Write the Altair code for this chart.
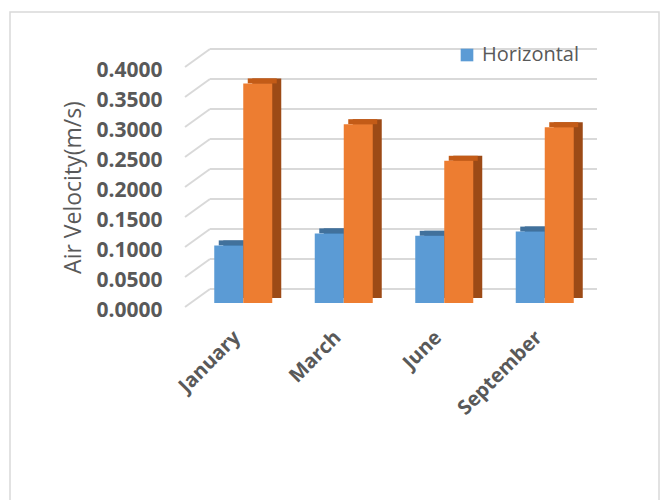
import altair as alt
import pandas as pd

# Monthly air velocity, two components
months = ["January", "March", "June", "September"]
horizontal = [0.096, 0.116, 0.112, 0.119]
vertical = [0.366, 0.298, 0.237, 0.293]
y_ticks = [0.0, 0.05, 0.10, 0.15, 0.20, 0.25, 0.30, 0.35, 0.40]

series_names = ["Horizontal", "Vertical"]
front_colors = ["#5B9BD5", "#ED7D31"]
top_colors = ["#41719C", "#C35B17"]
side_colors = ["#2F5F8C", "#9C4A16"]

rows = []
for m, h, v in zip(months, horizontal, vertical):
    rows.append({"month": m, "series": "Horizontal", "value": h})
    rows.append({"month": m, "series": "Vertical", "value": v})
df = pd.DataFrame(rows)
grid_df = pd.DataFrame({"tick": y_ticks})

FONT = "Open Sans"
GREY = "#595959"
BAR_W = 29
DEPTH_X = 9
DEPTH_Y = 5
FLOOR = 4  # bars sit slightly behind the front edge of the floor

x_scale = alt.Scale(domain=months, paddingInner=0.42, paddingOuter=0.21)
y_scale = alt.Scale(domain=[0, 0.4], nice=False)

x_axis = alt.Axis(
    title=None, labelAngle=-45, labelFont=FONT, labelFontWeight="bold",
    labelFontSize=20, labelColor=GREY, domain=False, ticks=False,
    labelPadding=20, labelOffset=-13, grid=False, zindex=1,
)
y_axis = alt.Axis(
    title="Air Velocity(m/s)", values=y_ticks, format=".4f",
    labelFont=FONT, labelFontWeight="bold", labelFontSize=21, labelColor=GREY,
    labelOverlap=False, labelOffset=3, tickCount=9,
    domain=False, ticks=False, grid=False, labelPadding=31, zindex=1,
    titleFont=FONT, titleFontWeight="normal", titleFontSize=23, titleColor=GREY,
    titleAngle=-90, titleX=-120, titleY=120, titleBaseline="middle", titleAlign="center",
)


def y_enc(field):
    return alt.Y(field, scale=y_scale, axis=y_axis)


def x_enc():
    return alt.X("month:N", scale=x_scale, axis=x_axis, sort=months)


# Outer frame around the figure
frame = alt.Chart(alt.Data(values=[{}])).mark_rect(
    filled=False, stroke="#d9d9d9", strokeWidth=1.5
).encode(
    x=alt.value(-183), x2=alt.value(466), y=alt.value(-55), y2=alt.value(445)
)

# Back-wall gridlines and the slanted lines joining them to the labels
wall = alt.Chart(grid_df).mark_rule(
    color="#d9d9d9", strokeWidth=2, yOffset=-18, y2Offset=-18
).encode(
    y=y_enc("tick:Q"), y2="tick:Q",
    x=alt.value(17), x2=alt.value(404),
)
slant = alt.Chart(grid_df).mark_rule(
    color="#d9d9d9", strokeWidth=2, yOffset=0, y2Offset=-18
).encode(
    y=y_enc("tick:Q"), y2="tick:Q",
    x=alt.value(-8), x2=alt.value(17),
)

layers = [frame, wall, slant]
for i, name in enumerate(series_names):
    shift = (-0.5 + i) * BAR_W
    base = alt.Chart(df).transform_filter(alt.datum.series == name)
    side = base.mark_bar(
        width=BAR_W, color=side_colors[i], xOffset=shift + DEPTH_X,
        yOffset=-FLOOR - DEPTH_Y, y2Offset=-FLOOR - DEPTH_Y,
    ).encode(x=x_enc(), y=y_enc("value:Q"))
    top = base.mark_bar(
        width=BAR_W, color=top_colors[i], xOffset=shift + DEPTH_X / 2,
        yOffset=-FLOOR - DEPTH_Y, y2Offset=-FLOOR,
    ).encode(x=x_enc(), y=y_enc("value:Q"), y2="value:Q")
    front = base.mark_bar(
        width=BAR_W, xOffset=shift, yOffset=-FLOOR, y2Offset=-FLOOR,
    ).encode(
        x=x_enc(),
        y=y_enc("value:Q"),
        color=alt.Color(
            "series:N",
            scale=alt.Scale(domain=series_names, range=front_colors),
            legend=alt.Legend(
                title=None, values=["Horizontal"], orient="none",
                legendX=264, legendY=-22, symbolType="square", symbolSize=160,
                symbolStrokeWidth=0, labelFont=FONT, labelFontSize=20,
                labelColor=GREY, padding=0, labelOffset=5,
            ),
        ),
    )
    layers += [side, top, front]

chart = alt.layer(*layers).properties(
    width=402, height=240,
    autosize=alt.AutoSizeParams(type="none"),
    padding={"left": 193, "top": 67, "right": 66, "bottom": 193},
    background="white",
).configure_view(stroke=None)

chart.save("out.html", embed_options={"renderer": "svg", "actions": False})
